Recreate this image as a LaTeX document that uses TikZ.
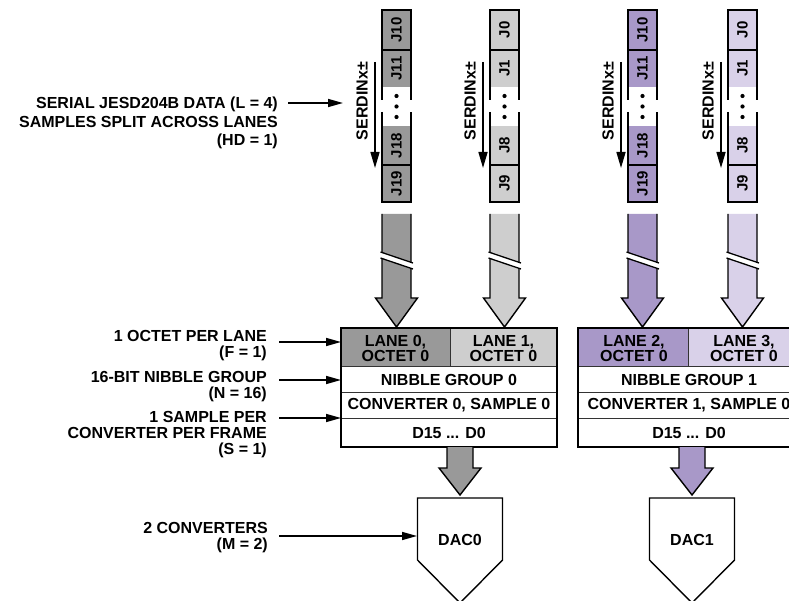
\documentclass[tikz,border=0pt]{standalone}
\usepackage{fontspec}
\setmainfont{Liberation Sans}
\usetikzlibrary{arrows.meta}
\definecolor{gA}{RGB}{153,153,153}
\definecolor{gB}{RGB}{206,206,206}
\definecolor{pA}{RGB}{168,152,200}
\definecolor{pB}{RGB}{217,209,233}
\begin{document}
\begin{tikzpicture}[x=1pt,y=-1pt,
  lbl/.style={font=\bfseries\fontsize{16}{16}\selectfont, align=right, anchor=east, inner sep=0pt},
  txt/.style={font=\bfseries\fontsize{16}{15.5}\selectfont, align=center, inner sep=0pt},
  jt/.style={font=\bfseries\fontsize{15}{15}\selectfont, rotate=90, inner sep=0pt},
  ptr/.style={line width=1.5pt, -{Triangle[length=15pt,width=8pt]}},
  sarrow/.style={line width=1.5pt, -{Triangle[length=16pt,width=9pt]}},
  boxline/.style={line width=1.8pt},
  innerline/.style={line width=0.9pt, black!80},
  fatarrow/.style={line width=1.4pt, line join=miter}
]
\useasboundingbox (0,0) rectangle (789,601);

% ---------- serial lanes ----------
\foreach \n/\L/\C/\a/\b/\c/\d in {0/382/gA/J10/J11/J18/J19, 1/490/gB/J0/J1/J8/J9, 2/628/pA/J10/J11/J18/J19, 3/728/pB/J0/J1/J8/J9}{
  \fill[\C] (\L,10) rectangle (\L+29,87);
  \fill[\C] (\L,126) rectangle (\L+29,202);
  \draw[boxline] (\L,100) -- (\L,10) -- (\L+29,10) -- (\L+29,100);
  \draw[boxline] (\L,112) -- (\L,202) -- (\L+29,202) -- (\L+29,112);
  \draw[line width=1.2pt] (\L,50) -- (\L+29,50);
  \draw[line width=1.2pt] (\L,165) -- (\L+29,165);
  \node[jt] (ca\n) at (\L+14.5,30) {\a};
  \node[jt] (cb\n) at (\L+14.5,68.5) {\b};
  \node[jt] (cc\n) at (\L+14.5,145.5) {\c};
  \node[jt] (cd\n) at (\L+14.5,183.5) {\d};
  \fill (\L+14.5,96) circle (2.1);
  \fill (\L+14.5,106.5) circle (2.1);
  \fill (\L+14.5,117) circle (2.1);
  % SERDIN arrow
  \coordinate (st\n) at (\L-7,62);
  \coordinate (sb\n) at (\L-7,168);
  \draw[sarrow] (st\n) -- (sb\n);
  \node[txt, rotate=90] (sl\n) at (\L-20,101) {SERDINx±};
  % fat arrow with break
  \fill[\C] (\L,214) -- (\L,298) -- (\L-6.5,298) -- (\L+14.5,327) -- (\L+35.5,298) -- (\L+29,298) -- (\L+29,214) -- cycle;
  \draw[fatarrow] (\L,214) -- (\L,298) -- (\L-6.5,298) -- (\L+14.5,327) -- (\L+35.5,298) -- (\L+29,298) -- (\L+29,214);
  \fill[white] (\L-1.5,252) -- (\L+31,263) -- (\L+31,269) -- (\L-1.5,258) -- cycle;
  \draw[line width=1.3pt] (\L-1.5,252) -- (\L+31,263);
  \draw[line width=1.3pt] (\L-1.5,258) -- (\L+31,269);
}

% ---------- table 1 ----------
\fill[gA] (341,328) rectangle (450,366);
\fill[gB] (450,328) rectangle (557,366);
\draw[innerline] (341,366) -- (557,366);
\draw[innerline] (341,392) -- (557,392);
\draw[innerline] (341,418) -- (557,418);
\draw[innerline] (450,328) -- (450,366);
\draw[boxline] (341,328) rectangle (557,447);
\node[txt] (t1a) at (395.5,348.5) {LANE 0,\\OCTET 0};
\node[txt] (t1b) at (503.5,348.5) {LANE 1,\\OCTET 0};
\node[txt] (t1c) at (449,379.5) {NIBBLE GROUP 0};
\node[txt] (t1d) at (449,405.5) {CONVERTER 0, SAMPLE 0};
\node[txt] (t1e) at (449,433) {D15 ... D0};

% ---------- table 2 ----------
\fill[pA] (578,328) rectangle (688,366);
\fill[pB] (688,328) rectangle (800,366);
\draw[innerline] (578,366) -- (800,366);
\draw[innerline] (578,392) -- (800,392);
\draw[innerline] (578,418) -- (800,418);
\draw[innerline] (688,328) -- (688,366);
\draw[boxline] (578,328) rectangle (800,447);
\node[txt] (t2a) at (634,348.5) {LANE 2,\\OCTET 0};
\node[txt] (t2b) at (744,348.5) {LANE 3,\\OCTET 0};
\node[txt] (t2c) at (689,379.5) {NIBBLE GROUP 1};
\node[txt] (t2d) at (689,405.5) {CONVERTER 1, SAMPLE 0};
\node[txt] (t2e) at (689,433) {D15 ... D0};

% ---------- output arrows and DACs ----------
\foreach \k/\c/\C in {0/460/gA, 1/692/pA}{
  \fill[\C] (\c-13,447) -- (\c-13,468) -- (\c-21,468) -- (\c,495) -- (\c+21,468) -- (\c+13,468) -- (\c+13,447) -- cycle;
  \draw[fatarrow] (\c-13,447) -- (\c-13,468) -- (\c-21,468) -- (\c,495) -- (\c+21,468) -- (\c+13,468) -- (\c+13,447);
  \draw[line width=1.4pt, line join=miter] (\c-42.5,498) -- (\c+42.5,498) -- (\c+42.5,560) -- (\c,603) -- (\c-42.5,560) -- cycle;
  \node[txt] (dac\k) at (\c,540) {DAC\k};
}

% ---------- left labels ----------
\node[lbl, font=\bfseries\fontsize{16}{18.5}\selectfont] (lab1) at (278,123) {SERIAL JESD204B DATA (L = 4)\\SAMPLES SPLIT ACROSS LANES\\(HD = 1)};
\node[lbl] (lab2) at (267,346) {1 OCTET PER LANE\\(F = 1)};
\node[lbl] (lab3) at (267,386.5) {16-BIT NIBBLE GROUP\\(N = 16)};
\node[lbl] (lab4) at (267,434.5) {1 SAMPLE PER\\CONVERTER PER FRAME\\(S = 1)};
\node[lbl] (lab5) at (268,538) {2 CONVERTERS\\(M = 2)};

\coordinate (a1s) at (288,103);  \coordinate (a1e) at (343,103);
\coordinate (a2s) at (279,342);  \coordinate (a2e) at (341,342);
\coordinate (a3s) at (279,380);  \coordinate (a3e) at (341,380);
\coordinate (a4s) at (279,418);  \coordinate (a4e) at (341,418);
\coordinate (a5s) at (279,536);  \coordinate (a5e) at (417,536);
\draw[ptr] (a1s) -- (a1e);
\draw[ptr] (a2s) -- (a2e);
\draw[ptr] (a3s) -- (a3e);
\draw[ptr] (a4s) -- (a4e);
\draw[ptr] (a5s) -- (a5e);
\end{tikzpicture}
\end{document}
